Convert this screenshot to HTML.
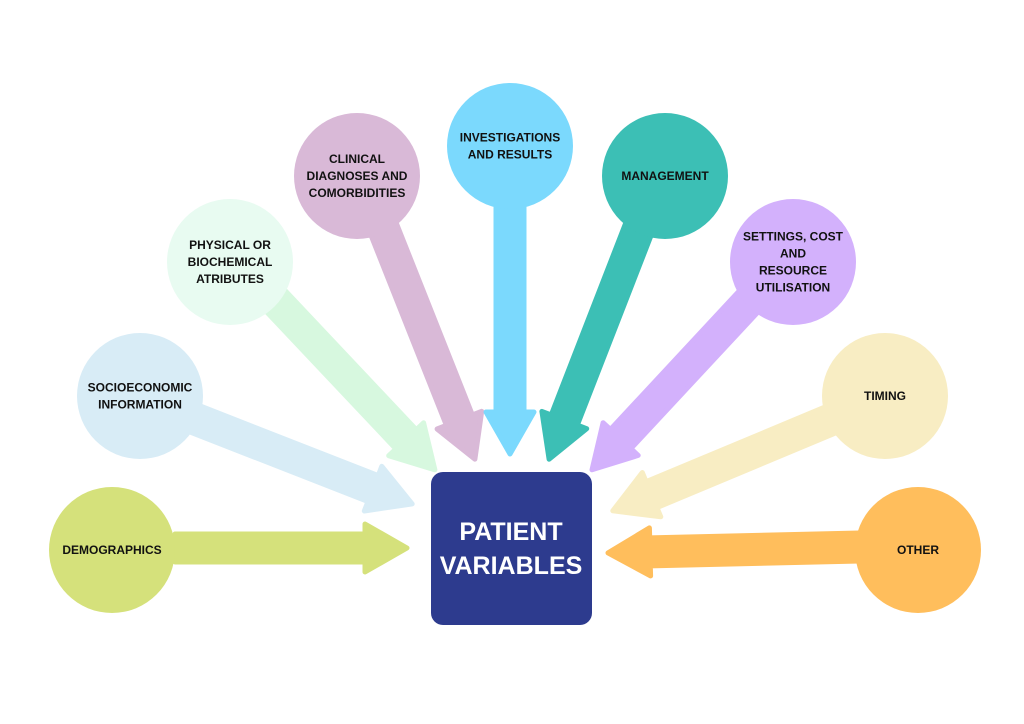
<!DOCTYPE html>
<html><head><meta charset="utf-8"><style>
html,body{margin:0;padding:0;background:#fff;width:1024px;height:724px;overflow:hidden}
svg{display:block}
text{font-family:"Liberation Sans",sans-serif;font-weight:bold}
</style></head><body>
<svg id="s" width="1024" height="724" viewBox="0 0 1024 724" xmlns="http://www.w3.org/2000/svg">
<g id="arrows"></g>
<g id="circles"></g>
<rect x="431" y="472" width="161" height="153" rx="12" fill="#2d3b8e"/>
<text x="511" y="540" fill="#fff" font-size="25" text-anchor="middle">PATIENT</text>
<text x="511" y="574" fill="#fff" font-size="25" text-anchor="middle">VARIABLES</text>
</svg>
<script>
var A=document.getElementById('arrows'),C=document.getElementById('circles');
var items=[
 [112,550,'#d5e17b','#d5e17b',[175,548],[410,548],['DEMOGRAPHICS']],
 [140,396,'#d8ecf6','#d8ecf6',[185,415],[415,505],['SOCIOECONOMIC','INFORMATION']],
 [230,262,'#e8fbf1','#d7f8df',[270,295],[437,472],['PHYSICAL OR','BIOCHEMICAL','ATRIBUTES']],
 [357,176,'#d9b9d7','#d9b9d7',[380,220],[476,462],['CLINICAL','DIAGNOSES AND','COMORBIDITIES']],
 [510,146,'#7bd9fd','#7bd9fd',[510,200],[510,457],['INVESTIGATIONS','AND RESULTS']],
 [665,176,'#3cbfb5','#3cbfb5',[642,220],[548,462],['MANAGEMENT']],
 [793,262,'#d3b1fc','#d3b1fc',[750,300],[590,472],['SETTINGS, COST','AND','RESOURCE','UTILISATION']],
 [885,396,'#f8edc3','#f8edc3',[835,418],[610,512],['TIMING']],
 [918,550,'#ffbe5c','#ffbe5c',[860,547],[605,553],['OTHER']]
];
var ns='http://www.w3.org/2000/svg';
function el(t,a,p){var e=document.createElementNS(ns,t);for(var k in a)e.setAttribute(k,a[k]);p.appendChild(e);return e;}
items.forEach(function(it){
 var s=it[4],t=it[5],dx=t[0]-s[0],dy=t[1]-s[1],L=Math.hypot(dx,dy),ux=dx/L,uy=dy/L,px=-uy,py=ux;
 var hw=14,HW=24,HL=42,r=3;
 var tx=t[0]-ux*r,ty=t[1]-uy*r;
 var bx=tx-ux*HL,by=ty-uy*HL;
 var pts=[[s[0]+px*hw,s[1]+py*hw],[bx+px*hw,by+py*hw],[bx+px*HW,by+py*HW],[tx,ty],[bx-px*HW,by-py*HW],[bx-px*hw,by-py*hw],[s[0]-px*hw,s[1]-py*hw]];
 el('polygon',{points:pts.map(function(p){return p[0].toFixed(1)+','+p[1].toFixed(1)}).join(' '),fill:it[3],stroke:it[3],'stroke-width':5,'stroke-linejoin':'round'},A);
 el('circle',{cx:it[0],cy:it[1],r:63,fill:it[2]},C);
 var lines=it[6],lh=17,y0=it[1]-(lines.length-1)*lh/2+4;
 lines.forEach(function(l,i){var tt=el('text',{x:it[0],y:y0+i*lh,'font-size':12,'text-anchor':'middle',fill:'#111'},C);tt.textContent=l;});
});
</script>
</body></html>
